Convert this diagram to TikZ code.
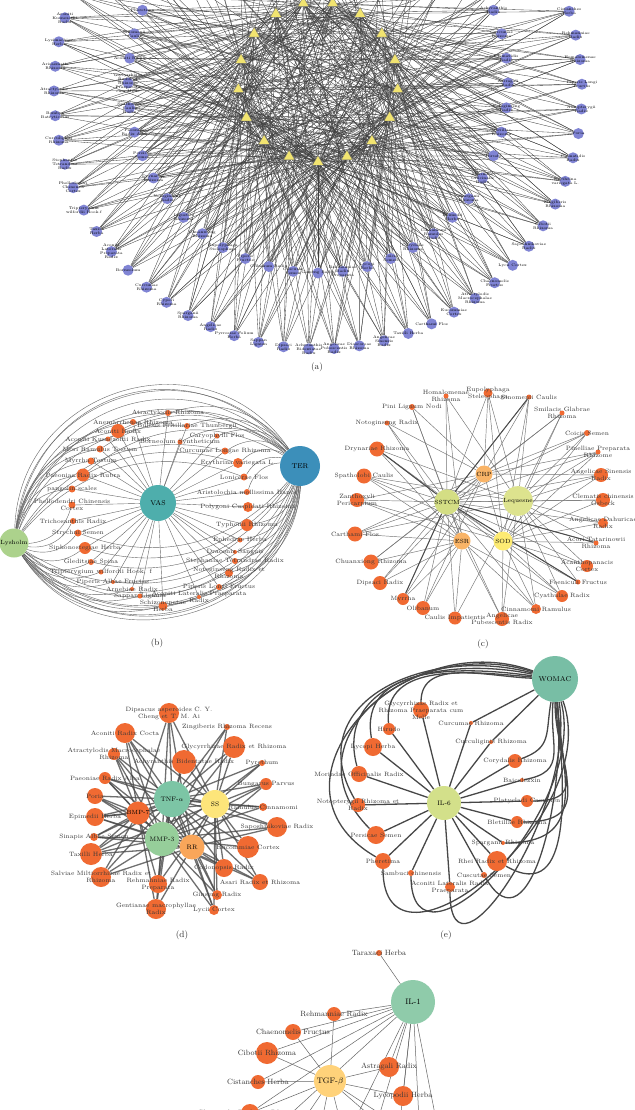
\documentclass[tikz,border=0pt]{standalone}
\usepackage{amsmath}
\usetikzlibrary{shapes.geometric}
\usetikzlibrary{backgrounds}
\definecolor{herbc}{RGB}{240,106,50}
\definecolor{drugc}{RGB}{128,132,212}
\definecolor{targc}{RGB}{242,228,112}
\definecolor{txtc}{RGB}{55,55,55}
\definecolor{vasc}{RGB}{78,174,172}
\definecolor{terc}{RGB}{60,143,186}
\definecolor{lysc}{RGB}{172,210,140}
\definecolor{crpc}{RGB}{249,180,103}
\definecolor{sstc}{RGB}{212,222,132}
\definecolor{lqsc}{RGB}{221,227,142}
\definecolor{sodc}{RGB}{253,235,115}
\definecolor{tnfc}{RGB}{124,197,165}
\definecolor{mmpc}{RGB}{150,206,154}
\definecolor{ssc}{RGB}{253,229,122}
\definecolor{rrc}{RGB}{249,166,90}
\definecolor{womc}{RGB}{120,190,165}
\definecolor{ilsc}{RGB}{211,224,138}
\definecolor{ilac}{RGB}{143,203,170}
\definecolor{tgfc}{RGB}{255,210,122}
\begin{document}
\begin{tikzpicture}[x=1pt, y=-1pt,
    every label/.style={inner sep=0pt, align=center, text=txtc},
    herb/.style={circle, fill=herbc, inner sep=0pt, minimum size=#1pt},
    drug/.style={circle, fill=drugc, inner sep=0pt, minimum size=11pt},
    targ/.style={regular polygon, regular polygon sides=3, fill=targc, draw=black!60, line width=0.3pt, inner sep=0pt, minimum size=13pt},
    hub/.style={circle, inner sep=0pt, text=black, font=\fontsize{6.5}{7}\selectfont},
    albl/.style={font=\fontsize{3.8}{4}\selectfont, text=black},
    lbl/.style={font=\fontsize{6.2}{7}\selectfont},
    flbl/.style={font=\fontsize{7.6}{8.5}\selectfont},
    capt/.style={font=\fontsize{9}{10}\selectfont, text=black!80},
    aedge/.style={draw=black!75, line width=0.33pt},
    bedge/.style={draw=black!60, line width=0.4pt},
    cedge/.style={draw=black!55, line width=0.45pt},
    dedge/.style={draw=black!70, line width=1.3pt, opacity=0.8},
    eedge/.style={draw=black!72, line width=1.3pt},
    fedge/.style={draw=black!60, line width=0.5pt}]

\begin{scope}[on background layer]
\fill[white] (0,0) rectangle (634,1110);
\end{scope}
\useasboundingbox (0,0) rectangle (634,1110);

% (a)
\foreach \j in {0,...,16}
  \node[targ] (t\j) at ({318+80*cos(90+360/17*\j)},{82+80*sin(90+360/17*\j)}) {};
\foreach \txt [count=\i from 0] in {{Clematidis\\Radix},{Aconiti\\Kusnezoffii\\Radix},{Lysimachiae\\Herba},{Arisaematis\\Rhizoma},{Atractylodis\\Rhizoma},{Bombyx\\Batryticatus},{Curculiginis\\Rhizoma},{Stephaniae\\Tetrandrae\\Radix},{Phellodendri\\Chinensis\\Cortex},{Tripterygium\\wilfordii Hook.f},{Taxilli\\Herba},{Aconiti\\Lateralis\\Preparata\\Radix},{Borneolum},{Curcumae\\Rhizoma},{Cyperi\\Rhizoma},{Sparganii\\Rhizoma},{Angelicae\\Radix},{Pyrrosiae Folium\\Herba},{Sappan\\Lignum},{Dipsaci\\Radix},{Achyranthis\\Bidentatae\\Radix},{Angelicae\\Pubescentis\\Radix},{Dioscoreae\\Rhizoma},{Angelicae\\Sinensis\\Radix},{Taxilli Herba},{Carthami Flos},{Eucommiae\\Cortex},{Atractylodis\\Macrocephalae\\Rhizoma},{Chaenomelis\\Fructus},{Lycii Cortex},{Saposhnikoviae\\Radix},{Cibotii\\Rhizoma},{Zingiberis\\Rhizoma},{Erythrina\\variegata L.},{Clematidis\\Radix},{Poria},{Notopterygii\\Radix},{Piperis Longi\\Fructus},{Homalomenae\\Rhizoma},{Rehmanniae\\Radix},{Cistanches\\Herba}}
  \node[drug, label={[albl]center:\txt}] (o\i) at ({318+264*cos(202-5.5*\i)},{91+258*sin(202-5.5*\i)}) {};
\foreach \txt [count=\i from 0] in {{Pheretima},{Sinomenii\\Caulis},{Aconiti Radix},{Glycyrrhizae\\Radix et\\Rhizoma\\Praeparata\\cum Melle},{Spatholobi\\Caulis\\Radix},{Paeoniae\\Radix Alba},{Persicae\\Semen},{Drynariae\\Rhizoma},{Notoginseng\\Radix},{Ligustici\\Rhizoma},{Chuanxiong\\Rhizoma},{Eupolyphaga\\Steleophaga},{Piperis\\Fructus},{Olibanum Radix},{Cuscutae\\Semen},{Ginseng Radix},{Rehmanniae\\Radix\\Preparata},{Lycopi\\Herba},{Coicis\\Semen},{Corydalis\\Rhizoma},{Cinnamomi\\Ramulus\\Radix},{Epimedii\\Herba},{Sparganii\\Rhizoma},{Morindae\\Officinalis\\Radix},{Hirudo},{Bletillae\\Rhizoma},{Notoginseng\\Radix},{Astragali\\Radix},{Clematidis\\Radix},{Curcumae\\Rhizoma},{Achyranthis\\Radix}}
  \node[drug, label={[albl]center:\txt}] (n\i) at ({318+190*cos(202.5-7.5*\i)},{83+190*sin(202.5-7.5*\i)}) {};
\foreach \k in {0,...,11}
  \coordinate (ho\k) at ({318+264*cos(207.5+11*\k)},{91+258*sin(207.5+11*\k)});
\foreach \k in {0,...,8}
  \coordinate (hi\k) at ({318+190*cos(213+15*\k)},{83+190*sin(213+15*\k)});
\node[capt] (capa) at (317,367) {(a)};

\begin{scope}[on background layer]
\foreach \i in {0,...,40} \foreach \k in {0,4,9,13,6,2,11} {
  \pgfmathtruncatemacro\tg{mod(7*\i+\k,17)}
  \draw[aedge] (o\i) -- (t\tg);
}
\foreach \i in {0,...,30} \foreach \k in {0,3,8,12,15,6,10} {
  \pgfmathtruncatemacro\tg{mod(5*\i+\k+2,17)}
  \draw[aedge] (n\i) -- (t\tg);
}
\foreach \i in {0,...,11} \foreach \k in {0,6,10,14,3} {
  \pgfmathtruncatemacro\tg{mod(11*\i+\k,17)}
  \draw[aedge] (ho\i) -- (t\tg);
}
\foreach \i in {0,...,8} \foreach \k in {1,5,11} {
  \pgfmathtruncatemacro\tg{mod(4*\i+\k,17)}
  \draw[aedge] (hi\i) -- (t\tg);
}
\end{scope}

% (b)
\node[hub, fill=vasc, minimum size=36pt, font=\fontsize{7}{8}\selectfont] (VAS) at (158,503) {VAS};
\node[hub, fill=terc, minimum size=40pt, font=\fontsize{7}{8}\selectfont] (TER) at (300,466) {TER};
\node[hub, fill=lysc, minimum size=29pt, font=\fontsize{6}{7}\selectfont] (Lysholm) at (14,543) {Lysholm};
\foreach \n/\x/\y/\d/\txt in {1/168/413/6/Atractylodis Rhizoma,2/133/422/6/Anemarrhenae Rhizoma,3/118/431/14/Aconiti Radix,4/187/426/6/Bulbus Fritillariae Thunbergii,5/217/436/5/Caryophylli Flos,6/108/439/5/Aconiti Kusnezoffii Radix,7/180/442/5/Borneolum Syntheticum,8/100/449/7/Mori Ramulus Tostum,9/225/451/7/Curcumae Longae Rhizoma,10/91/461/7/Myrrha Tostum,11/238/463/10/Erythrina variegata L.,12/83/475/13/Paeoniae Radix Rubra,13/244/477/7/Lonicerae Flos,14/72/489/7/pangolin scales,15/247/492/6/Aristolochia mollissima Hance,16/72/505/7/{Phellodendri Chinensis\\Cortex},17/248/507/10/Polygoni Cuspidati Rhizoma,18/73/521/6/Trichosanthis Radix,19/247/525/12/Typhonii Rhizoma,20/78/533/7/Strychni Semen,21/240/540/5/Ephedrae Herba,22/85/548/12/Siphonostegiae Herba,23/235/552/4/Draconis Sanguis,24/91/562/6/Gleditsiae Spina,25/235/561/6/Stephaniae Tetrandrae Radix,26/101/572/5/Tripterygium wilfordii Hook. f,27/229/573/8/{Notoginseng Radix et\\Rhizoma},28/113/582/4/Piperis Albae Fructus,29/219/587/6/Piperis Longi Fructus,30/132/589/4/Arnebiae Radix,31/199/597/4/{Aconiti Lateralis Praeparata\\Radix},32/140/596/5/Sappan Lignum,33/163/606/9/{Schizonepetae\\Herba}}
  \node[herb=\d, label={[lbl]center:\txt}] (b\n) at (\x,\y) {};
\node[capt] (capb) at (157,643) {(b)};

\begin{scope}[on background layer]
\foreach \n in {1,...,33} \draw[bedge] (b\n) -- (VAS);
\foreach \n in {1,2,3,6,8,10,12,14,4,9,11,13} \draw[bedge] (Lysholm) to[bend left=35] (b\n);
\foreach \n in {16,18,20,22,24,26,28,30,32,33,21,25,29,31} \draw[bedge] (Lysholm) to[bend right=35] (b\n);
\foreach \n in {1,4,5,7,9,11,13,15,3,6,8,12} \draw[bedge] (TER) to[bend right=35] (b\n);
\foreach \n in {17,19,21,23,25,27,29,31,33,20,22,24,28,32} \draw[bedge] (TER) to[bend left=35] (b\n);
\foreach \b/\l in {55/1.2,62/1.22,68/1.25,72/1.28,66/1.3} \draw[bedge] (Lysholm) to[bend left=\b, looseness=\l] (TER);
\foreach \b/\l in {55/1.15,62/1.18,68/1.2,72/1.22,66/1.25} \draw[bedge] (Lysholm) to[bend right=\b, looseness=\l] (TER);
\end{scope}

% (c)
\node[hub, fill=crpc, minimum size=17pt, font=\fontsize{6}{7}\selectfont] (CRP) at (484,474) {CRP};
\node[hub, fill=sstc, minimum size=21pt, font=\fontsize{6}{7}\selectfont] (SSTCM) at (447,502) {SSTCM};
\node[hub, fill=lqsc, minimum size=21pt, font=\fontsize{6}{7}\selectfont] (Lequesne) at (518,501) {Lequesne};
\node[hub, fill=crpc, minimum size=17pt, font=\fontsize{6}{7}\selectfont] (ESR) at (462,541) {ESR};
\node[hub, fill=sodc, minimum size=19pt, font=\fontsize{6}{7}\selectfont] (SOD) at (503,541) {SOD};
\foreach \n/\x/\y/\d/\txt in {1/446/396/5/{Homalomenae\\Rhizoma},2/488/393/9/{Eupolyphaga\\Steleophaga},3/529/397/5/Sinomenii Caulis,4/412/407/6/Pini Lignum Nodi,5/562/413/5/{Smilacis Glabrae\\Rhizoma},6/387/423/5/Notoginseng Radix,7/587/433/6/Coicis Semen,8/377/449/15/Drynariae Rhizoma,9/598/452/5/{Pinelliae Preparata\\Rhizome},10/364/476/15/Spatholobi Caulis,11/601/475/14/{Angelicae Sinensis\\Radix},12/357/500/14/{Zanthoxyli\\Pericarpium},13/603/500/14/{Clematis chinensis\\Osbeck},14/355/534/15/Carthami Flos,15/603/523/10/{Angelicae Dahuricae\\Radix},16/596/543/5/{Acori Tatarinowii\\Rhizoma},17/371/562/15/Chuanxiong Rhizoma,18/587/566/12/{Acanthopanacis\\Cortex},19/380/583/14/Dipsaci Radix,20/578/582/5/Foeniculi Fructus,21/403/599/12/Myrrha,22/562/596/12/Cyathulae Radix,23/423/608/14/Olibanum,24/536/609/10/Cinnamomi Ramulus,25/455/618/13/Caulis Impatientis,26/502/619/14/{Angelicae\\Pubescentis Radix}}
  \node[herb=\d, label={[lbl]center:\txt}] (c\n) at (\x,\y) {};
\node[capt] (capc) at (483,644) {(c)};

\begin{scope}[on background layer]
\foreach \n in {1,...,26} \draw[cedge] (c\n) -- (SSTCM);
\foreach \n in {1,2,3,5,7,8,9,10,11,13,14,15,16,18,20,22,24,25,26} \draw[cedge] (c\n) -- (Lequesne);
\foreach \n in {2,3,4,5,6,7,9,11,12,14,17,19,21,23} \draw[cedge] (c\n) -- (CRP);
\foreach \n in {1,4,6,8,10,12,14,17,19,21,22,23,24,25,26} \draw[cedge] (c\n) -- (ESR);
\foreach \n in {2,3,5,7,8,9,10,11,12,13,15,16,18,20,22,24,26} \draw[cedge] (c\n) -- (SOD);
\foreach \n in {3,8,16,20,21} \draw[cedge, line width=1pt, draw=black!70] (c\n) -- (SSTCM);
\draw[cedge] (SSTCM) -- (Lequesne) (SSTCM) -- (SOD) (SSTCM) -- (ESR) (CRP) -- (SOD);
\end{scope}

% (d)
\node[hub, fill=tnfc, minimum size=36pt] (TNF) at (172,799) {TNF-$\alpha$};
\node[hub, fill=ssc, minimum size=28pt] (SS) at (215,804) {SS};
\node[hub, fill=herbc, minimum size=18pt, font=\fontsize{6}{7}\selectfont] (BMP) at (138,813) {BMP-7};
\node[hub, fill=mmpc, minimum size=34pt] (MMP) at (162,839) {MMP-3};
\node[hub, fill=rrc, minimum size=25pt] (RR) at (192,847) {RR};
\foreach \n/\x/\y/\d/\txt in {1/169/713/20/{Dipsacus asperoides C. Y.\\Cheng et T. M. Ai},2/227/727/6/Zingiberis Rhizoma Recens,3/125/733/20/Aconiti Radix Cocta,4/234/747/22/Glycyrrhizae Radix et Rhizoma,5/114/754/12/{Atractylodis Macrocephalae\\Rhizoma},6/184/762/24/Achyranthis Bidentatae Radix,7/262/763/6/Pyrethum,8/105/778/12/Paeoniae Radix Alba,9/266/784/12/Bungarus Parvus,10/95/796/16/Poria,11/263/807/8/Ramulus Cinnamomi,12/95/817/18/Epimedii Herba,13/277/827/20/Saposhnikoviae Radix,14/94/837/8/Sinapis Albae Semen,15/248/847/22/Eucommiae Cortex,16/91/854/22/Taxilli Herba,17/101/877/20/{Salviae Miltiorrhizae Radix et\\Rhizoma},18/224/868/18/Codonopsis Radix,19/260/882/16/Asari Radix et Rhizoma,20/158/884/18/{Rehmanniae Radix\\Preparata},21/217/895/10/Ginseng Radix,22/156/909/20/{Gentianae macrophyllae\\Radix},23/214/910/10/Lycii Cortex}
  \node[herb=\d, label={[lbl]center:\txt}] (d\n) at (\x,\y) {};
\node[capt] (capd) at (182,935) {(d)};

\begin{scope}[on background layer]
\foreach \n in {1,...,23} \draw[dedge] (d\n) -- (TNF);
\foreach \n in {1,...,23} \draw[dedge] (d\n) -- (MMP);
\foreach \n in {1,2,4,6,7,9,11,13,15,18,19,21,23,3,8,12,16,20} \draw[dedge] (d\n) -- (SS);
\foreach \n in {1,3,5,8,10,12,14,16,17,18,19,21,22,23,9,13} \draw[dedge] (d\n) -- (RR);
\foreach \n in {1,3,5,8,10,12,14,16,17,20,22} \draw[dedge] (d\n) -- (BMP);
\draw[dedge] (TNF) -- (SS) (TNF) -- (MMP) (MMP) -- (RR) (BMP) -- (TNF) (BMP) -- (MMP) (SS) -- (RR);
\end{scope}

% (e)
\node[hub, fill=womc, minimum size=46pt, font=\fontsize{7}{8}\selectfont] (WOMAC) at (555,679) {WOMAC};
\node[hub, fill=ilsc, minimum size=34pt] (IL6) at (444,803) {IL-6};
\foreach \n/\x/\y/\d/\txt in {1/421/710/16/{Glycyrrhizae Radix et\\Rhizoma Praeparata cum\\Melle},2/389/729/12/Hirudo,3/471/723/4/Curcumae Rhizoma,4/373/747/18/Lycopi Herba,5/491/742/4/Curculiginis Rhizoma,6/515/761/14/Corydalis Rhizoma,7/359/774/16/Morindae Officinalis Radix,8/522/780/4/Baicalezxin,9/358/805/14/{Notopterygii Rhizoma et\\Radix},10/527/801/12/Platycladi Cacumen,11/517/822/12/Bletillae Rhizoma,12/376/835/18/Persicae Semen,13/503/843/4/Sparganii Rhizoma,14/383/861/16/Pheretima,15/497/861/20/Rhei Radix et Rhizoma,16/411/873/6/Sambuci chinensis,17/484/875/6/Cuscutae Semen,18/450/887/10/{Aconiti Lateralis Radix\\Praeparata}}
  \node[herb=\d, label={[lbl]center:\txt}] (e\n) at (\x,\y) {};
\node[capt] (cape) at (446,935) {(e)};

\begin{scope}[on background layer]
\foreach \n in {1,...,18} \draw[eedge] (e\n) -- (IL6);
\foreach \n/\o/\i/\l in {1/90/178/1,2/95/175/1.05,4/100/172/1.1,7/105/168/1.15,9/120/165/1.3,12/135/162/1.4,14/150/160/1.5}
  \draw[eedge] (e\n) to[out=\o, in=\i, looseness=\l] (WOMAC);
\foreach \n/\o/\i/\l in {14/-90/-70/1.3,16/-90/-75/1.25,18/-90/-80/1.25,17/-60/-84/1.2,15/-30/-85/1.2,13/0/-85/1.4,11/0/-88/1.5,10/0/-90/1.5,8/10/-95/1.4,6/20/-100/1.3}
  \draw[eedge] (e\n) to[out=\o, in=\i, looseness=\l] (WOMAC);
\draw[eedge] (e3) -- (WOMAC) (e5) -- (WOMAC);
\end{scope}

% (f)
\node[hub, fill=ilac, minimum size=44pt, font=\fontsize{8}{9}\selectfont] (IL1) at (413,1002) {IL-1};
\node[hub, fill=tgfc, minimum size=32pt, font=\fontsize{8}{9}\selectfont] (TGF) at (330,1081) {TGF-$\beta$};
\foreach \n/\x/\y/\d/\txt in {1/379/953/6/Taraxaci Herba,2/334/1014/14/Rehmanniae Radix,3/293/1032/16/Chaenomelis Fructus,4/267/1053/22/Cibotii Rhizoma,5/389/1067/20/Astragali Radix,6/258/1082/14/Cistanches Herba,7/403/1096/20/Lycopodii Herba,8/250/1113/18/Clematidis Radix et Rhizoma}
  \node[herb=\d, label={[flbl]center:\txt}] (f\n) at (\x,\y) {};
\foreach \k/\x in {1/290,2/318,3/345,4/372,5/398,6/420,7/440,8/262}
  \coordinate (fo\k) at (\x,1140);

\begin{scope}[on background layer]
\draw[fedge] (f1) -- (IL1);
\foreach \n in {2,3,4,6,8,5,7} \draw[fedge] (f\n) -- (IL1);
\foreach \n in {2,3,4,6,5,7,8} \draw[fedge] (f\n) -- (TGF);
\foreach \k in {3,4,5,6,7,8} \draw[fedge] (IL1) -- (fo\k);
\foreach \k in {1,2,3,5,6} \draw[fedge] (TGF) -- (fo\k);
\end{scope}
\end{tikzpicture}
\end{document}
